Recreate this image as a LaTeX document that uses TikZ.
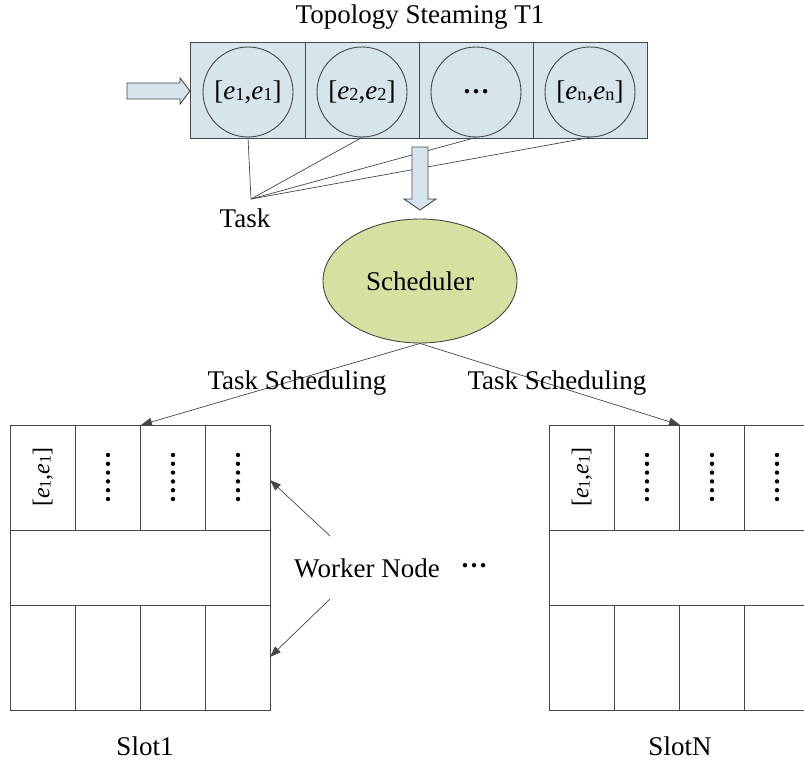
\documentclass[tikz,border=0pt]{standalone}
\usepackage{fontspec}
\setmainfont{Liberation Serif}
\usetikzlibrary{arrows.meta,shapes.geometric}
\definecolor{topblue}{RGB}{214,228,236}
\definecolor{schedgreen}{RGB}{213,225,160}
\definecolor{edge}{RGB}{70,70,70}
\newcommand{\ee}[1]{\textit{e}\raisebox{-0.1ex}{\scalebox{0.68}{#1}}}
\begin{document}
\begin{tikzpicture}[x=1pt,y=-1pt,
  ln/.style={draw=edge, line width=0.9pt},
  thin ln/.style={draw=edge, line width=0.7pt},
  txt/.style={font=\fontsize{27}{31}\selectfont, inner sep=0pt},
  ctxt/.style={font=\fontsize{24}{28}\selectfont, inner sep=0pt},
  arr/.style={thin ln, -{Triangle[length=11pt,width=8pt]}},
  cell/.style={circle, ln, minimum size=90pt, inner sep=0pt, font=\fontsize{27}{31}\selectfont}]
\clip (0,0) rectangle (804,760);
\useasboundingbox (0,0) rectangle (804,760);

% title
\node[txt] (title) at (420,17) {Topology Steaming T1};

% stream box
\node[ln, fill=topblue, minimum width=457pt, minimum height=96pt, anchor=north west, inner sep=0pt] (stream) at (190,42) {};
\foreach \x in {305,419,533} \draw[ln] (\x,42) -- (\x,138);
\node[cell] (c1) at (248,92) {[\ee{1},\ee{1}]};
\node[cell] (c2) at (362,92) {[\ee{2},\ee{2}]};
\node[cell] (c3) at (476,92) {\textbf{…}};
\node[cell] (c4) at (590,92) {[\ee{n},\ee{n}]};

% input hollow arrow
\draw[ln, fill=topblue] (127,83) -- (180,83) -- (180,78) -- (190,91) -- (180,104) -- (180,99) -- (127,99) -- cycle;

% task lines
\coordinate (task) at (251,199);
\foreach \c in {c1,c2,c3,c4} \draw[thin ln] (\c.south) -- (task);
\node[txt] (tasklbl) at (245,218) {Task};

% down hollow arrow
\draw[ln, fill=topblue] (412,147) -- (428,147) -- (428,199) -- (436,199) -- (420,210) -- (404,199) -- (412,199) -- cycle;

% scheduler
\node[ellipse, ln, fill=schedgreen, minimum width=194pt, minimum height=124pt, font=\fontsize{27}{31}\selectfont] (sched) at (420,281) {Scheduler};

% slots
\node[ln, minimum width=260pt, minimum height=285pt, anchor=north west, inner sep=0pt] (slot1) at (10,425) {};
\node[ln, minimum width=260pt, minimum height=285pt, anchor=north west, inner sep=0pt] (slotn) at (549,425) {};
\foreach \o in {0,539} {
  \draw[ln] (10+\o,530) -- (270+\o,530);
  \draw[ln] (10+\o,605) -- (270+\o,605);
  \foreach \x in {75,140,205} {
    \draw[ln] (\x+\o,425) -- (\x+\o,530);
    \draw[ln] (\x+\o,605) -- (\x+\o,710);
  }
  \node[ctxt, rotate=90] at (43+\o,477) {[\ee{1},\ee{1}]};
  \foreach \x in {108,173,238}
    \foreach \k in {0,...,5}
      \fill (\x+\o,455+8.8*\k) circle (2.2);
}

% scheduling arrows
\coordinate (s1) at (141,425);
\coordinate (sn) at (680,425);
\draw[arr] (sched.south) -- (s1);
\draw[arr] (sched.south) -- (sn);
\node[txt] (ts1) at (297,383) {Task Scheduling};
\node[txt] (tsn) at (557,383) {Task Scheduling};

% worker node
\node[txt] (worker) at (367,568) {Worker Node};
\node[txt] (wdots) at (474,566) {\textbf{…}};
\coordinate (w1s) at (330,536);
\coordinate (w1e) at (270,480);
\coordinate (w2s) at (330,599);
\coordinate (w2e) at (270,657);
\draw[arr] (w1s) -- (w1e);
\draw[arr] (w2s) -- (w2e);

\node[txt] (slot1lbl) at (145,746) {Slot1};
\node[txt] (slotnlbl) at (680,746) {SlotN};
\end{tikzpicture}
\end{document}
